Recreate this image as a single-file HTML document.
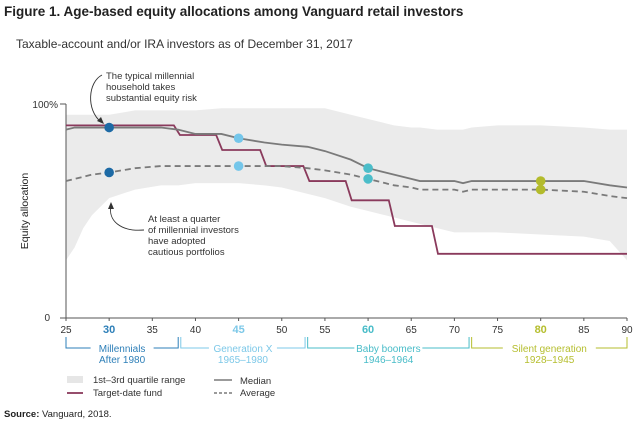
<!DOCTYPE html>
<html><head><meta charset="utf-8"><style>
body{margin:0;width:640px;height:430px;background:#fff;font-family:"Liberation Sans",sans-serif;overflow:hidden}
svg{display:block}
</style></head><body>
<svg width="640" height="430" viewBox="0 0 640 430" font-family="Liberation Sans, sans-serif">
<text x="4" y="16" font-size="13.5" font-weight="bold" fill="#222">Figure 1. Age-based equity allocations among Vanguard retail investors</text>
<text x="16" y="48" font-size="12" fill="#333">Taxable-account and/or IRA investors as of December 31, 2017</text>
<g id="plot"></g>
<text x="4" y="417" font-size="9.5" fill="#222"><tspan font-weight="bold">Source:</tspan> Vanguard, 2018.</text>
</svg>
<script>
const ages=[25,26,27,28,30,33,36,38,40,43,45,48,50,53,55,58,60,62,63,65,66,68,70,71,72,75,80,85,88,90];
const medianVals=[0.88,0.89,0.89,0.89,0.89,0.89,0.89,0.88,0.86,0.86,0.84,0.82,0.81,0.80,0.78,0.74,0.70,0.68,0.67,0.65,0.64,0.64,0.64,0.63,0.64,0.64,0.64,0.64,0.62,0.61];
const avgVals=[0.64,0.65,0.66,0.67,0.68,0.70,0.71,0.71,0.71,0.71,0.71,0.71,0.71,0.70,0.69,0.67,0.65,0.63,0.62,0.61,0.60,0.60,0.60,0.59,0.60,0.60,0.60,0.59,0.57,0.56];
const upperVals=[0.95,0.95,0.95,0.95,0.95,0.97,0.97,0.97,0.97,0.98,0.98,0.98,0.98,0.98,0.98,0.95,0.93,0.91,0.90,0.89,0.89,0.88,0.88,0.88,0.89,0.90,0.90,0.89,0.88,0.88];
const lowerVals=[0.27,0.33,0.42,0.48,0.56,0.60,0.62,0.62,0.63,0.63,0.63,0.62,0.61,0.58,0.56,0.52,0.50,0.48,0.47,0.45,0.44,0.42,0.40,0.40,0.40,0.40,0.39,0.38,0.36,0.27];
const tdfStepAges=[25,38.2,43.1,48.2,53.2,58.1,63.1,68.1];
const tdfVals=[0.90,0.855,0.785,0.71,0.64,0.55,0.43,0.30];
const tickAges=[25,30,35,40,45,50,55,60,65,70,75,80,85,90];
const genNames=["Millennials","Generation X","Baby boomers","Silent generation"];
const genYears=["After 1980","1965–1980","1946–1964","1928–1945"];
const genStart=[25,38.3,53,72];
const genEnd=[38,52.7,71.7,90];
const genColors=["#2d7fb8","#7cc8e8","#48bcc8","#b5be2e"];
const dotAges=[30,45,60,80];

const NS="http://www.w3.org/2000/svg";
const plot=document.getElementById('plot');
const X0=66,X1=627,Y0=318,Y1=104;
const xs=a=>X0+(a-25)/65*(X1-X0);
const ys=v=>Y0-v*(Y0-Y1);
function mk(tag,attrs,parent){const e=document.createElementNS(NS,tag);for(const k in attrs)e.setAttribute(k,attrs[k]);(parent||plot).appendChild(e);return e;}
const interp=(arr,a)=>{for(let i=0;i<ages.length-1;i++){if(a>=ages[i]&&a<=ages[i+1]){const t=(a-ages[i])/(ages[i+1]-ages[i]);return arr[i]+t*(arr[i+1]-arr[i]);}}return arr[arr.length-1];};

let d=ages.map((a,i)=>(i?'L':'M')+xs(a)+','+ys(upperVals[i])).join('');
for(let i=ages.length-1;i>=0;i--)d+='L'+xs(ages[i])+','+ys(lowerVals[i]);
let el=mk('path',{d:d+'Z',fill:'#ebebeb'});



el=mk('line',{x1:X0,y1:Y1,x2:X0,y2:Y0,stroke:'#555','stroke-width':1});


el=mk('line',{x1:X0-6,y1:Y1,x2:X0,y2:Y1,stroke:'#555'});


el=mk('line',{x1:X0-6,y1:Y0,x2:X1,y2:Y0,stroke:'#555'});


el=mk('text',{x:X0-8,y:Y1+4,'font-size':10,'text-anchor':'end',fill:'#333'});el.textContent='100%';


el=mk('text',{x:X0-16,y:Y0+3,'font-size':10,'text-anchor':'end',fill:'#333'});el.textContent='0';


el=mk('text',{x:28,y:211,'font-size':10.5,'text-anchor':'middle',fill:'#222',transform:'rotate(-90 28 211)'});el.textContent='Equity allocation';



tickAges.forEach(a=>{
  const di=dotAges.indexOf(a);
  const t=mk('line',{x1:xs(a),y1:Y0,x2:xs(a),y2:Y0+3,stroke:'#555'});
  
  
  const l=mk('text',{x:xs(a),y:Y0+15,'font-size':di>=0?11:10,'font-weight':di>=0?'bold':'normal','text-anchor':'middle',fill:di>=0?genColors[di]:'#333'});
  l.textContent=a;
  
  
});

let td='';
tdfStepAges.forEach((a,i)=>{
  if(i===0)td='M'+xs(a)+','+ys(tdfVals[i]);
  else td+='L'+xs(a-0.7)+','+ys(tdfVals[i-1])+'L'+xs(a)+','+ys(tdfVals[i]);
});
td+='L'+xs(90)+','+ys(tdfVals[tdfVals.length-1]);
el=mk('path',{d:td,fill:'none',stroke:'#8a3a5c','stroke-width':1.8});



el=mk('path',{d:ages.map((a,i)=>(i?'L':'M')+xs(a)+','+ys(medianVals[i])).join(''),fill:'none',stroke:'#7a7a7a','stroke-width':1.8});


el=mk('path',{d:ages.map((a,i)=>(i?'L':'M')+xs(a)+','+ys(avgVals[i])).join(''),fill:'none',stroke:'#7a7a7a','stroke-width':1.8,'stroke-dasharray':'6,4'});



dotAges.forEach((a,i)=>{
  const c=['#1d6aa5','#74c6ea','#4bbdc9','#b3bb2c'][i];
  let m=mk('circle',{cx:xs(a),cy:ys(interp(medianVals,a)),r:4.8,fill:c});
  
  
  m=mk('circle',{cx:xs(a),cy:ys(interp(avgVals,a)),r:4.8,fill:c});
  
  
});

const ann1=["The typical millennial","household takes","substantial equity risk"];
ann1.forEach((s,i)=>{const t=mk('text',{x:106,y:79+i*11,'font-size':9.5,fill:'#333'});t.textContent=s;

});
el=mk('path',{d:'M102,75 C88,82 86,110 101,122',fill:'none',stroke:'#333','stroke-width':0.9});


el=mk('path',{d:'M104,124 L97,121 L101,117Z',fill:'#333'});


const ann2=["At least a quarter","of millennial investors","have adopted","cautious portfolios"];
ann2.forEach((s,i)=>{const t=mk('text',{x:148,y:222+i*11,'font-size':9.5,fill:'#333'});t.textContent=s;

});
el=mk('path',{d:'M144,230 C120,232 108,220 111,206',fill:'none',stroke:'#333','stroke-width':0.9});


el=mk('path',{d:'M111,202 L108,209 L114,209Z',fill:'#333'});



genNames.forEach((n,i)=>{
  const a=xs(genStart[i]),b=xs(genEnd[i]),m=(a+b)/2,c=genColors[i];
  const g=mk('g',{});
  
  
  const tw=n.length*5.0+8;
  mk('path',{d:`M${a},337V348H${m-tw/2}M${m+tw/2},348H${b}V337`,fill:'none',stroke:c,'stroke-width':1},g);
  let t=mk('text',{x:m,y:352,'font-size':10,'text-anchor':'middle',fill:c},g);t.textContent=n;
  t=mk('text',{x:m,y:363,'font-size':10,'text-anchor':'middle',fill:c},g);t.textContent=genYears[i];
});

el=mk('rect',{x:67,y:376,width:16,height:7,fill:'#e6e6e6'});


el=mk('text',{x:93,y:383,'font-size':9.5,fill:'#333'});el.textContent='1st–3rd quartile range';


el=mk('line',{x1:67,y1:393,x2:83,y2:393,stroke:'#8a3a5c','stroke-width':1.8});


el=mk('text',{x:93,y:396,'font-size':9.5,fill:'#333'});el.textContent='Target-date fund';


el=mk('line',{x1:214,y1:380,x2:232,y2:380,stroke:'#7a7a7a','stroke-width':1.6});


el=mk('text',{x:240,y:384,'font-size':9.5,fill:'#333'});el.textContent='Median';


el=mk('line',{x1:214,y1:393,x2:232,y2:393,stroke:'#7a7a7a','stroke-width':1.4,'stroke-dasharray':'3,2'});


el=mk('text',{x:240,y:396,'font-size':9.5,fill:'#333'});el.textContent='Average';


</script>
</body></html>
